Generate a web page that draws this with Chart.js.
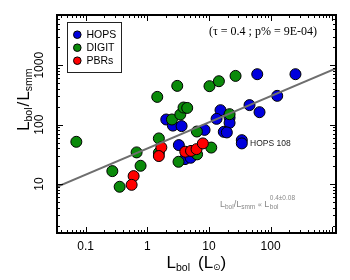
<!DOCTYPE html>
<html>
<head>
<meta charset="utf-8">
<script src="https://cdn.jsdelivr.net/npm/chart.js@4/dist/chart.umd.min.js"></script>
<style>
  html, body { margin: 0; padding: 0; background: #fff; }
</style>
</head>
<body>
<canvas id="chart1" width="350" height="280"></canvas>
<script>
// Values: Lbol (Lsun) and Lbol/Lsmm
const hopsLbol  = [2.03, 2.60, 3.60, 3.25, 4.08, 5.04, 8.49, 15.4, 13.3, 21.6, 21.6, 17.4, 19.5, 34.1, 34.1, 45.5, 66.1, 128, 60.7, 253];
const hopsRatio = [122, 96.3, 94.4, 45.2, 26.3, 27.7, 81.6, 175, 125, 131, 107, 75.7, 73.9, 54.8, 48.3, 213, 162, 305, 706, 706];

const digitLbol  = [0.0706, 0.271, 0.356, 0.671, 0.778, 1.45, 1.54, 1.54, 2.51, 3.06, 3.43, 3.87, 4.44, 3.21, 6.37, 6.42, 10.9, 10.2, 14.5, 27.0, 21.6];
const digitRatio = [51.4, 16.5, 9.0, 34.1, 20.3, 293, 58.6, 33.6, 122, 449, 148, 194, 191, 23.7, 76.5, 31.6, 41.1, 444, 538, 661, 150];

const pbrLbol  = [0.600, 0.557, 1.69, 1.54, 4.13, 5.12, 6.29, 7.96];
const pbrRatio = [13.6, 9.7, 41.4, 29.6, 35.0, 36.1, 38.7, 48.3];

// ends of the fitted power law as drawn
const fitLbol  = [0.0343, 1150];
const fitRatio = [9.0, 880];

const xTicks = [0.1, 1, 10, 100];
const yTicks = [10, 100, 1000];
const xRange = [0.0343, 1150];
const yRange = [1.5, 7000];

const seriesNames = ['HOPS', 'DIGIT', 'PBRs'];
const seriesColors = ['#0000dd', '#0a8a0a', '#ff0000'];

function toPoints(xs, ys) {
  return xs.map((x, i) => ({ x: x, y: ys[i] }));
}

const SANS = '"Liberation Sans", Arial, "DejaVu Sans", sans-serif';
const SERIF = '"Liberation Serif", "DejaVu Serif", serif';

// draws the frame, inward ticks, tick labels, titles, legend and notes
const decorations = {
  id: 'decorations',
  afterDraw(chart) {
    const ctx = chart.ctx;
    const a = chart.chartArea;
    const xs = chart.scales.x;
    const ys = chart.scales.y;

    ctx.save();
    ctx.strokeStyle = '#000';

    // minor + major tick marks, pointing in, on all four sides
    ctx.lineWidth = 1;
    function ticksFor(scale, lo, hi, cb) {
      for (let k = Math.floor(Math.log10(lo)); k <= Math.ceil(Math.log10(hi)); k++) {
        for (let m = 1; m <= 9; m++) {
          const v = m * Math.pow(10, k);
          if (v < lo || v > hi) continue;
          cb(scale.getPixelForValue(v), m == 1 ? 6 : 3);
        }
      }
    }
    ctx.beginPath();
    ticksFor(xs, xRange[0], xRange[1], function(px, len) {
      px = Math.round(px) + 0.5;
      ctx.moveTo(px, a.bottom); ctx.lineTo(px, a.bottom - len);
      ctx.moveTo(px, a.top); ctx.lineTo(px, a.top + len);
    });
    ticksFor(ys, yRange[0], yRange[1], function(py, len) {
      py = Math.round(py) + 0.5;
      ctx.moveTo(a.left, py); ctx.lineTo(a.left + len, py);
      ctx.moveTo(a.right, py); ctx.lineTo(a.right - len, py);
    });
    ctx.stroke();

    // frame
    ctx.lineWidth = 2;
    ctx.strokeRect(a.left, a.top, a.right - a.left, a.bottom - a.top);

    // tick labels
    ctx.fillStyle = '#000';
    ctx.font = '12px ' + SANS;
    ctx.textAlign = 'center';
    ctx.textBaseline = 'middle';
    xs.ticks.forEach(t => {
      ctx.fillText(String(t.value), xs.getPixelForValue(t.value), a.bottom + 14);
    });
    ys.ticks.forEach(t => {
      ctx.save();
      ctx.translate(a.left - 17, ys.getPixelForValue(t.value));
      ctx.rotate(-Math.PI / 2);
      ctx.fillText(String(t.value), 0, 0);
      ctx.restore();
    });

    // pieces of text with sub/superscripts: [text, size, shift, gap after]
    function runs(parts, x, y, font) {
      ctx.textAlign = 'left';
      ctx.textBaseline = 'alphabetic';
      let cx = x;
      parts.forEach(p => {
        ctx.font = p[1] + 'px ' + font;
        ctx.fillText(p[0], cx, y + p[2]);
        cx += ctx.measureText(p[0]).width + (p[3] || 0);
      });
      return cx;
    }

    // axis titles
    runs([['L', 17, 0], ['bol', 10.5, 3, 8], ['(', 17, 0], ['L', 17, 0], ['\u2299', 9, 2], [')', 17, 0]], 166.5, 268, SANS);
    ctx.save();
    ctx.translate(29, 131);
    ctx.rotate(-Math.PI / 2);
    runs([['L', 17, 0], ['bol', 10.5, 3, 1], ['/', 17, 0, 1], ['L', 17, 0], ['smm', 10.5, 3]], 0, 0, SANS);
    ctx.restore();

    // statistics note
    ctx.fillStyle = '#000';
    ctx.font = '12px ' + SERIF;
    ctx.textAlign = 'right';
    ctx.textBaseline = 'alphabetic';
    ctx.fillText('(\u03c4 = 0.4 ; p% = 9E-04)', 317, 35);

    // label for one source
    ctx.fillStyle = '#222';
    ctx.font = '8.5px ' + SANS;
    ctx.textAlign = 'left';
    ctx.fillText('HOPS 108', 250, 146);

    // fit relation
    ctx.fillStyle = '#888';
    const ex = runs([['L', 9, 0], ['bol', 6.5, 2], ['/L', 9, 0], ['smm', 6.5, 2, 2], ['\u221d', 7, 0, 2], ['L', 9, 0, 0.5]], 220, 206.5, SANS);
    ctx.font = '6.5px ' + SANS;
    ctx.fillText('0.4\u00b10.08', ex, 200);
    ctx.fillText('bol', ex, 209);

    // legend
    ctx.lineWidth = 1;
    ctx.strokeStyle = '#222';
    ctx.strokeRect(67.5, 22.5, 54, 50);
    seriesNames.forEach((name, i) => {
      const cy = 34.7 + i * 13;
      ctx.beginPath();
      ctx.arc(77.3, cy, 3.8, 0, Math.PI * 2);
      ctx.fillStyle = seriesColors[i];
      ctx.fill();
      ctx.strokeStyle = '#000';
      ctx.stroke();
      ctx.fillStyle = '#000';
      ctx.font = '10.5px ' + SANS;
      ctx.textBaseline = 'middle';
      ctx.fillText(name, 86.5, cy + 0.5);
    });

    ctx.restore();
  }
};

const pointStyle = (i) => ({
  backgroundColor: seriesColors[i],
  borderColor: '#000',
  borderWidth: 1,
  pointRadius: 5.5,
  pointHoverRadius: 5.5
});

new Chart(document.getElementById('chart1'), {
  type: 'scatter',
  data: {
    datasets: [
      {
        label: 'fit',
        data: toPoints(fitLbol, fitRatio),
        showLine: true,
        borderColor: '#6e6e6e',
        borderWidth: 2,
        pointRadius: 0,
        order: 0
      },
      Object.assign({ label: seriesNames[2], data: toPoints(pbrLbol, pbrRatio), order: 1 }, pointStyle(2)),
      Object.assign({ label: seriesNames[1], data: toPoints(digitLbol, digitRatio), order: 2 }, pointStyle(1)),
      Object.assign({ label: seriesNames[0], data: toPoints(hopsLbol, hopsRatio), order: 3 }, pointStyle(0))
    ]
  },
  options: {
    responsive: false,
    animation: false,
    layout: { padding: { left: 57, right: 14, top: 15, bottom: 47 } },
    plugins: { legend: { display: false }, tooltip: { enabled: false } },
    scales: {
      x: {
        type: 'logarithmic',
        display: false,
        min: xRange[0],
        max: xRange[1],
        afterBuildTicks: function(scale) { scale.ticks = xTicks.map(v => ({ value: v })); }
      },
      y: {
        type: 'logarithmic',
        display: false,
        min: yRange[0],
        max: yRange[1],
        afterBuildTicks: function(scale) { scale.ticks = yTicks.map(v => ({ value: v })); }
      }
    }
  },
  plugins: [decorations]
});
</script>
</body>
</html>
